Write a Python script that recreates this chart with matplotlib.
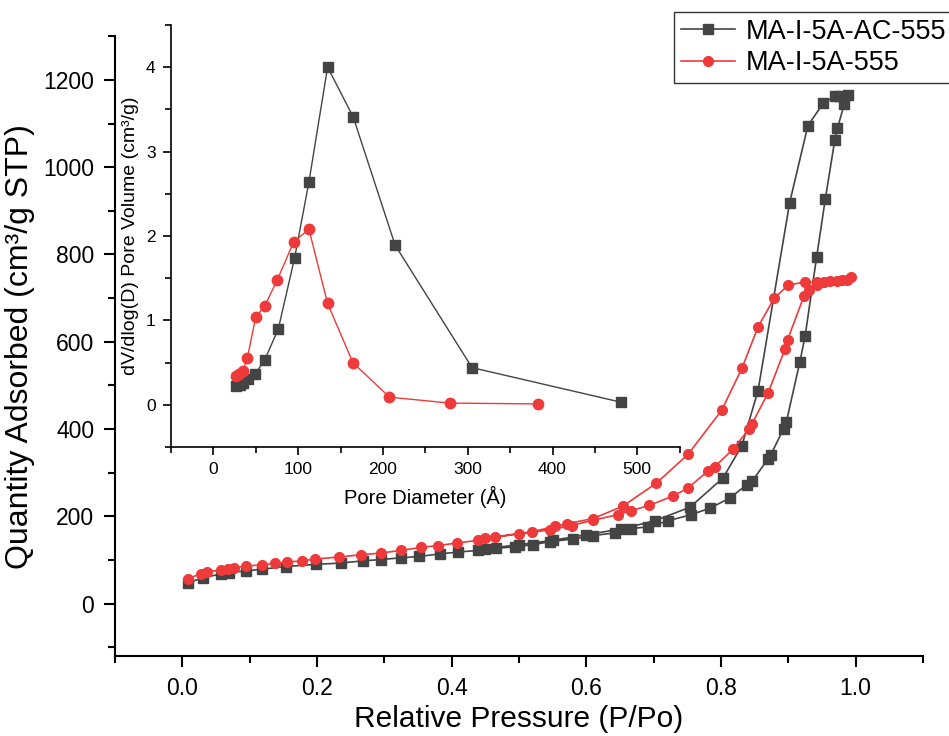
import numpy as np
import matplotlib
matplotlib.use("Agg")
import matplotlib.pyplot as plt
from matplotlib.ticker import MultipleLocator

plt.rcParams["font.family"] = ["Liberation Sans", "DejaVu Sans"]

# Isotherm, MA-I-5A-AC-555 (adsorption then desorption)
p_ac_ads = [0.008, 0.030, 0.057, 0.069, 0.095, 0.119, 0.154, 0.199, 0.236, 0.268,
            0.295, 0.325, 0.352, 0.382, 0.409, 0.439, 0.466, 0.494, 0.521, 0.546,
            0.580, 0.610, 0.642, 0.667, 0.692, 0.722, 0.756, 0.784, 0.813, 0.838,
            0.846, 0.870, 0.874, 0.893, 0.897, 0.917, 0.925, 0.942, 0.955, 0.969,
            0.973, 0.983, 0.988]
q_ac_ads = [47, 59, 68, 71, 75, 79, 85, 90, 93, 98,
            101, 105, 108, 114, 118, 122, 127, 130, 135, 142,
            148, 156, 162, 172, 176, 190, 204, 219, 242, 272,
            280, 332, 341, 401, 416, 553, 614, 794, 928, 1062,
            1089, 1145, 1166]
p_ac_des = [0.975, 0.970, 0.952, 0.929, 0.902, 0.855, 0.831, 0.803, 0.754, 0.702,
            0.652, 0.600, 0.550, 0.500, 0.450]
q_ac_des = [1163, 1163, 1147, 1095, 919, 488, 362, 288, 221, 190,
            171, 158, 145, 135, 126]

# Isotherm, MA-I-5A-555
p_ma_ads = [0.008, 0.028, 0.037, 0.057, 0.068, 0.077, 0.095, 0.118, 0.137, 0.156,
            0.177, 0.197, 0.233, 0.266, 0.295, 0.325, 0.355, 0.380, 0.408, 0.439,
            0.465, 0.500, 0.546, 0.578, 0.610, 0.647, 0.667, 0.693, 0.728, 0.751,
            0.780, 0.791, 0.818, 0.842, 0.846, 0.870, 0.895, 0.899, 0.923, 0.930,
            0.942, 0.953, 0.962, 0.972, 0.979, 0.987, 0.993]
q_ma_ads = [57, 69, 73, 77, 80, 82, 86, 89, 92, 95,
            98, 102, 107, 112, 116, 122, 129, 133, 139, 145,
            152, 160, 169, 179, 191, 204, 213, 225, 246, 265,
            303, 314, 354, 401, 412, 483, 583, 605, 704, 718,
            729, 736, 740, 740, 741, 742, 748]
p_ma_des = [0.942, 0.925, 0.900, 0.879, 0.855, 0.831, 0.801, 0.751, 0.704, 0.654,
            0.610, 0.571, 0.554, 0.520, 0.450]
q_ma_des = [737, 737, 730, 700, 634, 539, 443, 342, 276, 223,
            195, 183, 177, 165, 150]

# Pore size distribution (inset)
d_ac = [26.7, 31.4, 35.3, 41.2, 49.5, 60.5, 76.6, 95.8, 112.7, 134.7, 164.9, 214.4, 305.1, 481.0]
v_ac = [0.22, 0.24, 0.26, 0.30, 0.37, 0.53, 0.90, 1.74, 2.64, 4.00, 3.41, 1.89, 0.44, 0.03]
d_ma = [26.7, 30.6, 34.5, 40.0, 49.9, 60.5, 75.4, 94.7, 112.7, 134.7, 164.5, 207.7, 278.8, 382.9]
v_ma = [0.34, 0.36, 0.40, 0.55, 1.04, 1.17, 1.48, 1.93, 2.08, 1.20, 0.50, 0.09, 0.02, 0.01]

c_ac = "#444444"
c_ma = "#ee3a3a"

fig = plt.figure(figsize=(9.49, 7.36), dpi=100)
ax = fig.add_axes([0.1212, 0.1087, 0.8514, 0.842])

p1 = np.concatenate([p_ac_ads, p_ac_des])
q1 = np.concatenate([q_ac_ads, q_ac_des])
p2 = np.concatenate([p_ma_ads, p_ma_des])
q2 = np.concatenate([q_ma_ads, q_ma_des])
ax.plot(p1, q1, "-s", color=c_ac, ms=6.5, lw=1.2, label="MA-I-5A-AC-555")
ax.plot(p2, q2, "-o", color=c_ma, ms=7, lw=1.2, label="MA-I-5A-555")

ax.set_xlim(-0.1, 1.1)
ax.set_ylim(-120, 1300)
ax.xaxis.set_major_locator(MultipleLocator(0.2))
ax.xaxis.set_minor_locator(MultipleLocator(0.1))
ax.yaxis.set_major_locator(MultipleLocator(200))
ax.yaxis.set_minor_locator(MultipleLocator(100))
ax.xaxis.set_major_formatter(matplotlib.ticker.FormatStrFormatter("%.1f"))
for s in ["top", "right"]:
    ax.spines[s].set_visible(False)
for s in ["left", "bottom"]:
    ax.spines[s].set_linewidth(1.5)
ax.tick_params(which="major", direction="out", length=8, width=1.5, labelsize=16.5, pad=7)
ax.tick_params(which="minor", direction="out", length=5, width=1.5)
ax.set_xlabel("Relative Pressure (P/Po)", fontsize=21.5, labelpad=4)
ax.set_ylabel("Quantity Adsorbed (cm³/g STP)", fontsize=23, labelpad=6)

fig.legend(loc="upper left", bbox_to_anchor=(674 / 949, 1 - 12 / 736),
           bbox_transform=fig.transFigure, fontsize=19.5, frameon=True,
           fancybox=False, edgecolor="black", handlelength=2.0,
           borderpad=0.25, labelspacing=0.2, handletextpad=0.4,
           borderaxespad=0)

# inset
ins = fig.add_axes([0.1802, 0.3927, 0.536, 0.5734])
ins.patch.set_alpha(0)
ins.plot(d_ac, v_ac, "-s", color=c_ac, ms=7, lw=1.0)
ins.plot(d_ma, v_ma, "-o", color=c_ma, ms=7.5, lw=1.0)
ins.set_xlim(-50, 550)
ins.set_ylim(-0.5, 4.5)
ins.xaxis.set_major_locator(MultipleLocator(100))
ins.xaxis.set_minor_locator(MultipleLocator(50))
ins.yaxis.set_major_locator(MultipleLocator(1))
ins.yaxis.set_minor_locator(MultipleLocator(0.5))
for s in ["top", "right"]:
    ins.spines[s].set_visible(False)
for s in ["left", "bottom"]:
    ins.spines[s].set_linewidth(1.2)
ins.tick_params(which="major", direction="out", length=6, width=1.2, labelsize=12.5, pad=5)
ins.tick_params(which="minor", direction="out", length=4, width=1.2)
ins.set_xlabel("Pore Diameter (Å)", fontsize=14.5, labelpad=6)
ins.set_ylabel("dV/dlog(D) Pore Volume (cm³/g)", fontsize=14, labelpad=5)

fig.savefig("out.png", dpi=100)
